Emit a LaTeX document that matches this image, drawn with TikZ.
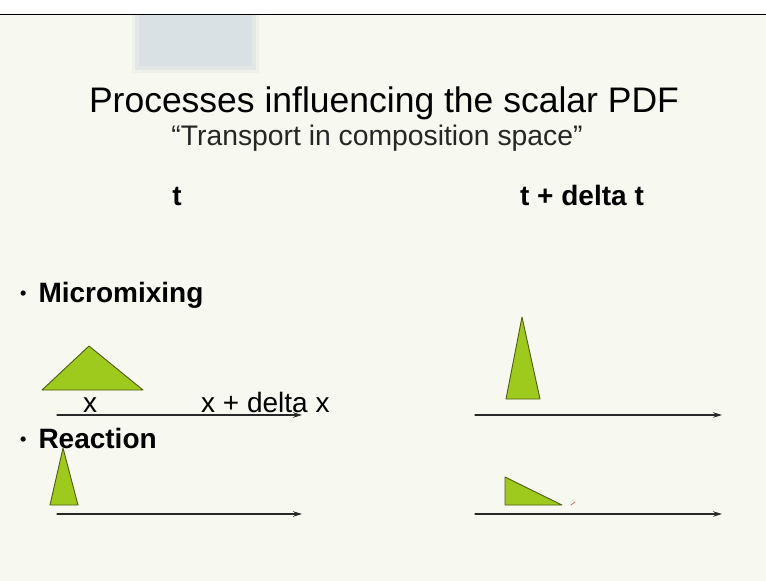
\documentclass[tikz,border=0pt]{standalone}
\usepackage{fontspec}
\setmainfont{Liberation Sans}
\usetikzlibrary{arrows.meta}
\definecolor{slidebg}{RGB}{247,248,240}
\definecolor{pdffill}{RGB}{158,202,30}
\definecolor{pdfline}{RGB}{80,92,20}
\definecolor{axisgray}{RGB}{40,40,40}
\definecolor{blurgray}{RGB}{218,225,228}
\newcommand{\slidebullet}{{\fontsize{18}{18}\selectfont\raisebox{2.5pt}{\textbullet}}\hspace{12pt}}
\begin{document}
\begin{tikzpicture}[x=1pt, y=-1pt, line join=round, line cap=round,>={Stealth[length=9pt,width=5.5pt]}]
			\def\W{766}
			\def\H{581}
			\tikzset{pdf/.style={fill=pdffill, draw=pdfline, line width=0.9pt},
				axis/.style={->, draw=axisgray, line width=1.2pt},
				lbl/.style={inner sep=0pt, anchor=base west, font=\fontsize{28}{32}\selectfont},
				head/.style={inner sep=0pt, anchor=base west, font=\fontsize{28}{32}\selectfont\bfseries}}
			\useasboundingbox (0,0) rectangle (\W,\H);
			\fill[white] (0,0) rectangle (\W,\H);
			\fill[slidebg] (0,15) rectangle (\W,\H);
			\fill[blurgray, opacity=0.3] (132,15) rectangle (259,73);
			\fill[blurgray, opacity=0.5] (135,15) rectangle (256,70);
			\fill[blurgray] (139,15) rectangle (252,66);
			\draw[black, line width=1.2pt] (0,14.5)--(\W,14.5);
			% titles
			\node[inner sep=0pt, anchor=base, font=\fontsize{35.5}{40}\selectfont] (title) at (384,112) {Processes influencing the scalar PDF};
			\node[inner sep=0pt, anchor=base, font=\fontsize{28.3}{32}\selectfont, text=black!85] (subtitle) at (377,145) {“Transport in composition space”};
			\node[inner sep=0pt, anchor=base, font=\fontsize{28}{32}\selectfont\bfseries] (tnow) at (177,205) {t};
			\node[inner sep=0pt, anchor=base, font=\fontsize{28}{32}\selectfont\bfseries] (tnext) at (582,205) {t + delta t};
			% micromixing
			\node[head] (mix) at (20,302) {\slidebullet Micromixing};
			\draw[pdf] (42,390) -- (143,390) -- (89,346) -- cycle;
			\coordinate (mixA) at (57,415);
			\coordinate (mixB) at (302,415);
			\draw[axis] (mixA) -- (mixB);
			\node[lbl] (xpos) at (83,412) {x};
			\node[lbl] (xdx) at (201,412) {x + delta x};
			\draw[pdf] (506,399) -- (540,399) -- (522,317) -- cycle;
			\coordinate (mixC) at (475,415);
			\coordinate (mixD) at (722,415);
			\draw[axis] (mixC) -- (mixD);
			% reaction
			\node[head] (react) at (20,448) {\slidebullet Reaction};
			\draw[pdf] (50,505) -- (78,505) -- (63,448) -- cycle;
			\coordinate (reaA) at (57,514);
			\coordinate (reaB) at (302,514);
			\draw[axis] (reaA) -- (reaB);
			\draw[pdf] (505,477) -- (505,505) -- (562,505) -- cycle;
			\draw[red!70, line width=0.7pt] (571,505) -- (575,502);
			\coordinate (reaC) at (475,514);
			\coordinate (reaD) at (722,514);
			\draw[axis] (reaC) -- (reaD);
		\end{tikzpicture}
\end{document}
